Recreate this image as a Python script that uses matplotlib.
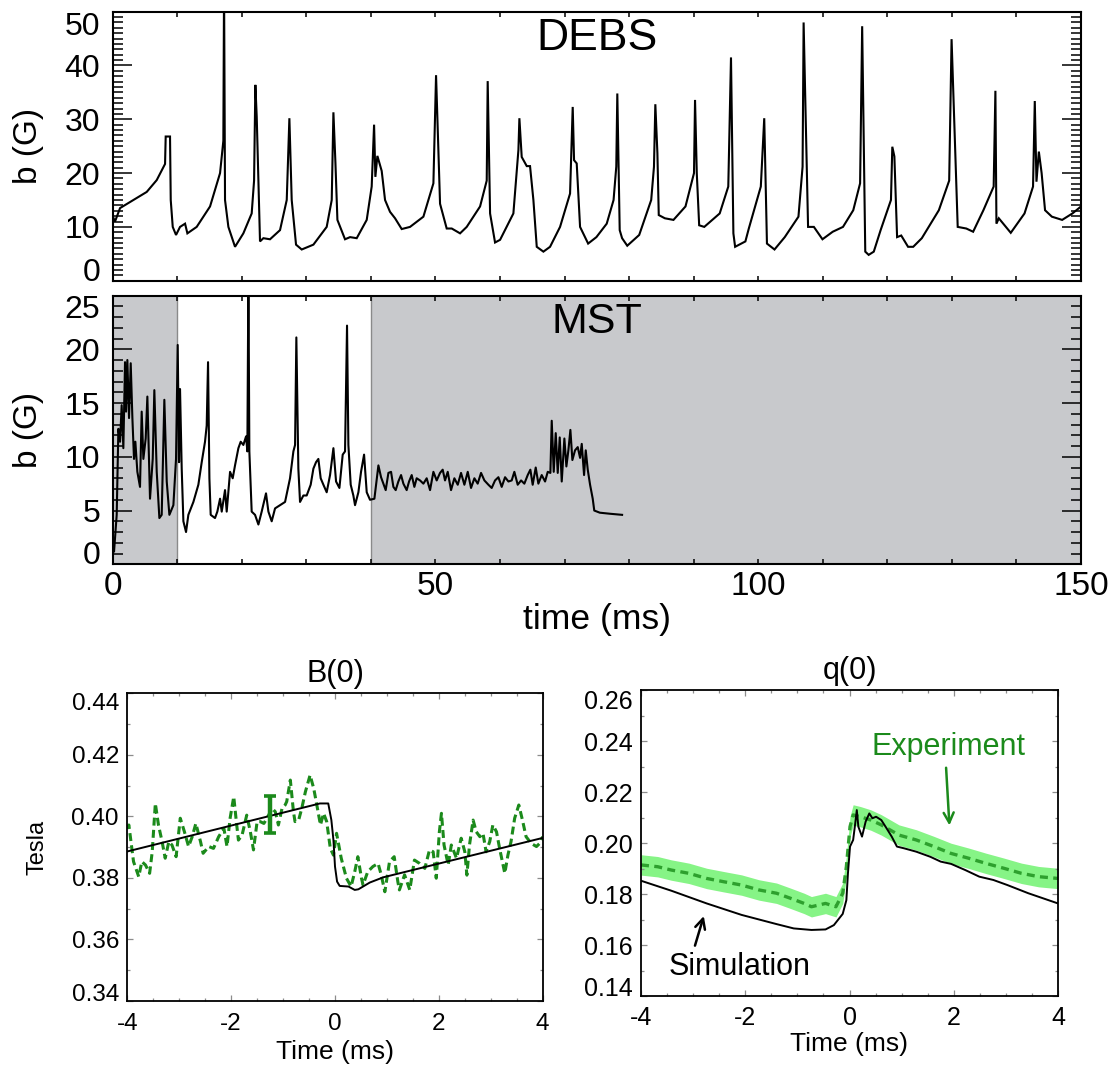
import matplotlib
matplotlib.use('Agg')
import matplotlib.pyplot as plt
from matplotlib.ticker import MultipleLocator, FormatStrFormatter

plt.rcParams['font.family'] = ['Liberation Sans', 'DejaVu Sans']
plt.rcParams['axes.unicode_minus'] = False

# ---------------- data ----------------
debs_points = [
    (0, 12), (0.36, 11), (1.14, 13.5), (3.20, 15), (5.27, 16.5), (6.82, 18.7), (7.85, 21.1),
    (8.11, 21.7), (8.21, 26.8), (8.88, 26.8), (8.99, 15), (9.30, 10.0), (9.81, 8.5), (10.43, 10.0),
    (11.21, 10.6), (11.57, 8.8), (13.01, 10), (15.08, 13.8), (16.63, 20), (17.14, 26), (17.25, 55),
    (17.40, 15), (17.92, 10), (18.95, 6.3), (20.24, 8.8), (21.53, 12.5), (21.90, 18.6), (22.10, 36.4),
    (22.31, 30.5), (22.82, 7.3), (23.34, 7.9), (24.37, 7.7), (25.92, 9.4), (26.96, 15), (27.37, 30.2),
    (27.73, 15), (28.40, 6.7), (29.28, 5.8), (31.09, 6.7), (33.15, 10), (33.93, 15), (34.19, 31.3),
    (34.50, 22), (34.81, 11.3), (35.99, 7.7), (36.77, 8.1), (37.80, 7.9), (39.35, 11.3), (40.12, 17.5),
    (40.49, 29.0), (40.69, 19.3), (41.00, 23.2), (41.67, 20.4), (42.19, 15), (42.96, 12.8),
    (43.74, 11.6), (44.77, 9.6), (46.06, 10), (48.13, 11.9), (49.68, 18.1), (50.09, 38.2),
    (50.71, 14.3), (51.74, 9.7), (52.52, 9.7), (53.81, 8.8), (54.84, 10), (56.91, 13.8), (57.94, 18.6),
    (58.09, 37.1), (58.46, 12.5), (59.23, 7.1), (60.01, 7.6), (62.07, 12.5), (62.85, 24.3),
    (63.00, 30.2), (63.36, 23), (64.14, 21.3), (64.65, 21.3), (65.17, 15), (65.69, 6.3), (66.72, 5.4),
    (67.75, 6.3), (69.30, 10), (70.85, 16.2), (71.26, 32.3), (71.47, 22.4), (71.88, 21.8), (72.40, 10),
    (73.65, 6.9), (74.93, 8.1), (76.53, 10.6), (77.59, 15), (78.01, 21.2), (78.17, 34.8), (78.54, 9.4),
    (78.91, 7.9), (79.71, 6.5), (81.56, 8.5), (83.42, 15), (83.85, 21.2), (84.06, 32.8), (84.38, 23.7),
    (84.59, 12.2), (85.54, 11.6), (86.87, 11.3), (88.73, 13.8), (90.05, 20), (90.21, 33.6),
    (90.48, 20), (90.85, 10.3), (91.64, 10), (94.03, 12.5), (95.36, 17.5), (95.78, 41.5), (96.15, 8.8),
    (96.42, 6.3), (98.01, 7.3), (98.54, 9.7), (100.40, 17.5), (100.93, 30.2), (101.35, 6.9),
    (102.52, 5.8), (104.11, 8.1), (106.23, 11.9), (106.87, 21.2), (107.03, 48.0), (107.72, 10),
    (108.62, 10), (109.95, 7.7), (111.54, 9.1), (113.13, 10), (114.72, 13.1), (115.78, 18.1),
    (116.10, 47.3), (116.58, 5.4), (117.11, 4.8), (117.90, 5.4), (118.96, 9.4), (120.56, 15),
    (120.77, 24.9), (121.09, 23.1), (121.51, 8.1), (122.15, 8.4), (123.21, 6.3), (124.01, 6.3),
    (125.34, 7.9), (127.98, 13.1), (129.58, 18.6), (129.95, 44.9), (130.90, 10), (132.23, 9.7),
    (133.29, 9.1), (134.88, 13.1), (136.47, 17.5), (136.74, 35.3), (136.90, 10.6), (137.27, 11.6),
    (139.12, 8.9), (141.25, 12.5), (142.57, 17.5), (142.84, 33.4), (143.10, 18.4), (143.47, 24.0),
    (143.90, 20.0), (144.43, 13.1), (145.49, 11.9), (147.08, 11.3), (148.67, 12.5), (150.0, 13.8),
]

mst_points = [
    (0.21, 1.2), (0.52, 3.7), (0.62, 4.6), (0.88, 12.6), (1.14, 11.4), (1.39, 14.8), (1.65, 10.8),
    (1.91, 18.8), (2.07, 14.2), (2.27, 19.0), (2.53, 13.6), (2.79, 18.7), (3.05, 13.6), (3.30, 9.8),
    (3.51, 11.4), (3.82, 8.6), (4.23, 7.2), (4.49, 14.2), (4.75, 9.8), (5.11, 11.7), (5.37, 15.6),
    (5.78, 6.1), (6.20, 9.8), (6.45, 16.2), (6.82, 8.6), (7.23, 4.3), (7.59, 4.6), (8.00, 15.3),
    (8.37, 7.7), (8.78, 4.6), (9.40, 5.5), (9.81, 9.8), (10.07, 20.4), (10.28, 9.5), (10.43, 16.3),
    (10.69, 8.9), (10.95, 4.0), (11.36, 3.0), (11.72, 4.6), (12.50, 5.8), (13.27, 7.4), (13.79, 9.5),
    (14.30, 11.4), (14.56, 12.9), (14.77, 18.8), (14.98, 8.0), (15.18, 4.6), (15.85, 4.3),
    (16.21, 4.9), (16.63, 6.1), (16.89, 4.9), (17.40, 6.9), (17.66, 4.9), (18.18, 8.6), (18.59, 8.0),
    (18.95, 9.2), (19.47, 10.8), (19.83, 11.4), (20.24, 11.1), (20.66, 11.9), (20.86, 10.5),
    (21.02, 27), (21.17, 10.5), (21.53, 4.9), (22.05, 4.6), (22.57, 3.7), (23.08, 4.9), (23.75, 6.6),
    (24.12, 4.9), (24.63, 4.0), (25.15, 5.2), (25.92, 5.5), (26.70, 5.8), (27.47, 8.0), (27.99, 10.5),
    (28.25, 11.1), (28.45, 21.1), (28.76, 8.9), (29.02, 5.8), (29.54, 6.4), (30.05, 6.4), (30.67, 7.4),
    (31.09, 8.9), (31.50, 9.5), (31.86, 9.8), (32.22, 8.0), (32.64, 7.4), (33.15, 6.7), (33.67, 8.3),
    (34.19, 10.8), (34.60, 7.7), (35.12, 7.1), (35.63, 10.2), (35.99, 10.5), (36.30, 22.2),
    (36.51, 11.1), (36.87, 7.4), (37.28, 6.4), (37.54, 5.5), (38.06, 6.7), (38.47, 8.6), (38.94, 10.2),
    (39.35, 6.7), (39.86, 6.0), (40.54, 6.1), (41.16, 9.2), (41.57, 8.1), (41.93, 7.5), (42.29, 6.9),
    (42.71, 8.5), (43.12, 8.6), (43.48, 7.2), (43.84, 6.9), (44.25, 7.7), (44.67, 8.3), (45.03, 7.5),
    (45.54, 6.9), (45.91, 7.7), (46.32, 8.3), (46.73, 7.2), (47.09, 8.0), (47.61, 7.8), (48.13, 7.5),
    (48.64, 8.0), (49.16, 6.9), (49.68, 8.6), (50.19, 7.8), (50.71, 8.5), (51.12, 8.8), (51.48, 7.8),
    (51.90, 8.6), (52.41, 6.9), (52.93, 8.0), (53.45, 7.4), (53.96, 8.5), (54.48, 7.4), (55.00, 8.6),
    (55.51, 7.1), (56.03, 8.0), (56.54, 7.5), (57.06, 8.5), (57.58, 7.8), (58.20, 7.4), (58.71, 7.1),
    (59.23, 7.8), (59.75, 8.1), (60.26, 7.2), (60.78, 8.1), (61.30, 7.7), (61.81, 7.8), (62.22, 8.6),
    (62.74, 7.4), (63.26, 7.8), (63.77, 7.5), (64.29, 8.3), (64.70, 8.8), (65.06, 7.4), (65.53, 9.0),
    (65.94, 7.5), (66.46, 8.3), (66.98, 7.7), (67.39, 8.6), (67.80, 8.5), (68.01, 13.35), (68.32, 8.6),
    (68.63, 12.2), (68.94, 8.5), (69.25, 11.8), (69.56, 7.7), (69.97, 11.7), (70.28, 9.1),
    (70.59, 10.6), (70.90, 12.5), (71.21, 9.7), (71.62, 10.6), (72.04, 10.9), (72.40, 9.9),
    (72.66, 11.2), (73.02, 8.3), (73.28, 10.6), (73.59, 8.8), (73.95, 7.4), (74.36, 6.1),
    (74.60, 5.0), (75.46, 4.8), (77.06, 4.7), (78.91, 4.6),
]

mst_shaded = [(0, 10), (40, 150)]

b0_sim_points = [
    (-4.00, 0.3886), (-0.29, 0.4042), (-0.13, 0.4042), (-0.07, 0.3988), (-0.03, 0.3923),
    (0.00, 0.3837), (0.04, 0.3788), (0.09, 0.3774), (0.26, 0.3772), (0.38, 0.3761), (0.45, 0.3763),
    (0.67, 0.3785), (0.93, 0.3802), (4.00, 0.3930),
]

b0_exp_points = [
    (-4.00, 0.3960), (-3.97, 0.3972), (-3.88, 0.3853), (-3.78, 0.3804), (-3.72, 0.3853),
    (-3.65, 0.3842), (-3.57, 0.3815), (-3.52, 0.3885), (-3.46, 0.4042), (-3.40, 0.3972),
    (-3.33, 0.3918), (-3.27, 0.3864), (-3.20, 0.3918), (-3.14, 0.3907), (-3.06, 0.3869),
    (-2.98, 0.3994), (-2.90, 0.3950), (-2.82, 0.3902), (-2.75, 0.3934), (-2.68, 0.3977),
    (-2.59, 0.3918), (-2.54, 0.3880), (-2.43, 0.3902), (-2.34, 0.3896), (-2.24, 0.3934),
    (-2.14, 0.3961), (-2.08, 0.3902), (-2.02, 0.3994), (-1.95, 0.4064), (-1.90, 0.3983),
    (-1.86, 0.3923), (-1.79, 0.3939), (-1.70, 0.4004), (-1.63, 0.3950), (-1.57, 0.3891),
    (-1.50, 0.3983), (-1.44, 0.3983), (-1.37, 0.3977), (-1.31, 0.3994), (-1.21, 0.4026),
    (-1.15, 0.4015), (-1.09, 0.3972), (-1.02, 0.4026), (-0.96, 0.4037), (-0.93, 0.4048),
    (-0.86, 0.4118), (-0.80, 0.4015), (-0.77, 0.3983), (-0.70, 0.3988), (-0.64, 0.4026),
    (-0.57, 0.4080), (-0.48, 0.4134), (-0.41, 0.4091), (-0.35, 0.4037), (-0.28, 0.3972),
    (-0.22, 0.4010), (-0.16, 0.3983), (-0.09, 0.3896), (-0.03, 0.3874), (0.03, 0.3945),
    (0.12, 0.3864), (0.22, 0.3799), (0.31, 0.3772), (0.38, 0.3820), (0.44, 0.3869), (0.51, 0.3799),
    (0.54, 0.3777), (0.63, 0.3820), (0.73, 0.3837), (0.83, 0.3847), (0.89, 0.3810), (0.96, 0.3755),
    (1.05, 0.3853), (1.14, 0.3869), (1.21, 0.3788), (1.24, 0.3761), (1.34, 0.3810), (1.44, 0.3761),
    (1.53, 0.3858), (1.63, 0.3847), (1.73, 0.3831), (1.82, 0.3891), (1.89, 0.3885), (1.95, 0.3799),
    (2.01, 0.3950), (2.05, 0.4010), (2.10, 0.3907), (2.18, 0.3842), (2.24, 0.3907), (2.34, 0.3864),
    (2.43, 0.3929), (2.50, 0.3885), (2.54, 0.3809), (2.59, 0.3907), (2.66, 0.3988), (2.72, 0.3950),
    (2.79, 0.3934), (2.85, 0.3945), (2.91, 0.3885), (2.98, 0.3918), (3.04, 0.3972), (3.11, 0.3950),
    (3.17, 0.3896), (3.27, 0.3815), (3.33, 0.3874), (3.39, 0.3918), (3.46, 0.3994), (3.54, 0.4037),
    (3.61, 0.3988), (3.68, 0.3934), (3.78, 0.3912), (3.88, 0.3902), (3.94, 0.3912), (4.00, 0.3934),
]

b0_errbar_t = -1.25
b0_errbar_v = 0.4005
b0_errbar_err = 0.006

q0_sim_points = [
    (-4.00, 0.1852), (-3.42, 0.1813), (-2.74, 0.1763), (-2.07, 0.1718), (-1.40, 0.1682),
    (-1.07, 0.1665), (-0.73, 0.1659), (-0.46, 0.1661), (-0.30, 0.1678), (-0.13, 0.1722),
    (-0.06, 0.1776), (-0.03, 0.1881), (0.01, 0.1986), (0.04, 0.1999), (0.07, 0.2012), (0.11, 0.2077),
    (0.14, 0.2129), (0.17, 0.2064), (0.24, 0.2025), (0.31, 0.2084), (0.38, 0.2116), (0.44, 0.2097),
    (0.51, 0.2103), (0.61, 0.2090), (0.71, 0.2058), (0.81, 0.2025), (0.91, 0.1986), (1.05, 0.1979),
    (1.28, 0.1966), (1.55, 0.1946), (1.75, 0.1927), (1.95, 0.1918), (2.22, 0.1894), (2.49, 0.1868),
    (2.76, 0.1855), (3.03, 0.1835), (3.43, 0.1803), (4.00, 0.1763),
]

q0_exp_points = [
    (-4.00, 0.1914), (-3.68, 0.1907), (-3.42, 0.1894), (-3.08, 0.1881), (-2.74, 0.1861),
    (-2.41, 0.1848), (-2.07, 0.1835), (-1.74, 0.1816), (-1.40, 0.1803), (-1.13, 0.1783),
    (-0.87, 0.1763), (-0.73, 0.1750), (-0.46, 0.1763), (-0.26, 0.1750), (-0.13, 0.1803),
    (-0.06, 0.1907), (0.01, 0.2064), (0.07, 0.2110), (0.21, 0.2103), (0.41, 0.2090), (0.61, 0.2071),
    (0.95, 0.2031), (1.28, 0.2012), (1.62, 0.1986), (1.95, 0.1959), (2.29, 0.1940), (2.62, 0.1920),
    (2.96, 0.1901), (3.30, 0.1881), (3.63, 0.1868), (4.00, 0.1861),
]
q0_exp_err = 0.004

debs_t, debs_b = zip(*debs_points)
mst_t, mst_b = zip(*mst_points)
b0s_t, b0s_v = zip(*b0_sim_points)
b0e_t, b0e_v = zip(*b0_exp_points)
q0s_t, q0s_v = zip(*q0_sim_points)
q0e_t, q0e_v = zip(*q0_exp_points)
q0e_lo = [v - q0_exp_err for v in q0e_v]
q0e_hi = [v + q0_exp_err for v in q0e_v]

# ---------------- figure ----------------
W, H = 1117, 1069
fig = plt.figure(figsize=(W / 100, H / 100), dpi=100)


def ax_px(l, t, r, b):
    return fig.add_axes([l / W, 1 - b / H, (r - l) / W, (b - t) / H])


def idl_end_labels(ax):
    ticks = ax.yaxis.get_major_ticks()
    ticks[0].label1.set_verticalalignment('baseline')
    ticks[-1].label1.set_verticalalignment('top')


GREEN_DARK = '#1b8a1b'
GREEN_MID = '#2ea02e'
GREEN_BAND = '#86f486'
SHADE = '#c8c9cc'

# ---- top panel: DEBS ----
ax1 = ax_px(112.7, 11.7, 1081, 280.7)
ax1.plot(debs_t, debs_b, color='k', lw=1.5, solid_joinstyle='miter')
ax1.set_xlim(0, 150)
ax1.set_ylim(0, 50)
ax1.set_yticks([0, 10, 20, 30, 40, 50])
ax1.yaxis.set_minor_locator(MultipleLocator(1))
ax1.xaxis.set_major_locator(MultipleLocator(50))
ax1.xaxis.set_minor_locator(MultipleLocator(10))
ax1.tick_params(which='both', direction='in', top=True, right=True, width=1.1, labelsize=23, pad=9)
ax1.tick_params(axis='y', which='major', length=13.5)
ax1.tick_params(axis='y', which='minor', length=7)
ax1.tick_params(axis='x', which='both', length=3.6, labelbottom=False)
ax1.set_ylabel('b (G)', fontsize=24)
ax1.yaxis.set_label_coords(-0.071, 0.5)
ax1.text(0.5, 0.902, 'DEBS', transform=ax1.transAxes, ha='center', va='center', fontsize=32)
for s in ax1.spines.values():
    s.set_linewidth(1.5)
idl_end_labels(ax1)

# ---- middle panel: MST ----
ax2 = ax_px(112.7, 295.5, 1081, 564.3)
for x0, x1 in mst_shaded:
    ax2.axvspan(x0, x1, color=SHADE, lw=0, zorder=0)
for xb in (10, 40):
    ax2.axvline(xb, color='#8a8a8a', lw=1.0, zorder=1)
ax2.plot(mst_t, mst_b, color='k', lw=1.5, zorder=3)
ax2.set_xlim(0, 150)
ax2.set_ylim(0, 25)
ax2.set_yticks([0, 5, 10, 15, 20, 25])
ax2.yaxis.set_minor_locator(MultipleLocator(1))
ax2.xaxis.set_major_locator(MultipleLocator(50))
ax2.xaxis.set_minor_locator(MultipleLocator(10))
ax2.tick_params(which='both', direction='in', top=True, right=True, width=1.1, labelsize=23, pad=9)
ax2.tick_params(axis='y', which='major', length=13.5)
ax2.tick_params(axis='y', which='minor', length=7)
ax2.tick_params(axis='x', which='both', length=3.6, labelsize=24, pad=5)
ax2.set_ylabel('b (G)', fontsize=24)
ax2.yaxis.set_label_coords(-0.071, 0.5)
ax2.set_xlabel('time (ms)', fontsize=25.5)
ax2.xaxis.set_label_coords(0.5, -0.145)
ax2.text(0.5, 0.901, 'MST', transform=ax2.transAxes, ha='center', va='center', fontsize=31)
for s in ax2.spines.values():
    s.set_linewidth(1.5)
idl_end_labels(ax2)


def style_small(ax, lsize, xpad, ypad):
    ax.set_xlim(-4, 4)
    ax.xaxis.set_major_locator(MultipleLocator(2))
    ax.xaxis.set_minor_locator(MultipleLocator(0.5))
    ax.yaxis.set_major_locator(MultipleLocator(0.02))
    ax.yaxis.set_minor_locator(MultipleLocator(0.01))
    ax.yaxis.set_major_formatter(FormatStrFormatter('%.2f'))
    ax.xaxis.set_major_formatter(FormatStrFormatter('%d'))
    ax.tick_params(which='both', direction='in', top=True, right=True, color='#8c8c8c',
                   labelcolor='k', width=0.9)
    ax.tick_params(which='major', length=4.5)
    ax.tick_params(which='minor', length=2.5)
    ax.tick_params(axis='x', labelsize=lsize, pad=xpad)
    ax.tick_params(axis='y', labelsize=lsize, pad=ypad)
    for s in ax.spines.values():
        s.set_linewidth(1.3)


# ---- bottom-left: B(0) ----
ax3 = ax_px(127.3, 693.3, 542.7, 1001)
ax3.plot(b0s_t, b0s_v, color='k', lw=1.4, zorder=3)
ax3.plot(b0e_t, b0e_v, color=GREEN_DARK, lw=2.2, dashes=(2.6, 1.4), zorder=2)
ax3.errorbar([b0_errbar_t], [b0_errbar_v], yerr=[b0_errbar_err], color=GREEN_DARK, lw=3.2,
             capsize=4.5, capthick=2.6, fmt='none', zorder=4)
ax3.set_ylim(0.34, 0.44)
style_small(ax3, 17.5, 9, 6)
ax3.set_yticks([0.34, 0.36, 0.38, 0.40, 0.42, 0.44])
ax3.set_title('B(0)', fontsize=22, pad=8)
ax3.set_xlabel('Time (ms)', fontsize=19)
ax3.xaxis.set_label_coords(0.5, -0.128)
ax3.set_ylabel('Tesla', fontsize=17)
ax3.yaxis.set_label_coords(-0.19, 0.5)
idl_end_labels(ax3)

# ---- bottom-right: q(0) ----
ax4 = ax_px(641, 690, 1058, 996)
ax4.fill_between(q0e_t, q0e_lo, q0e_hi, color=GREEN_BAND, lw=0, zorder=1)
ax4.plot(q0e_t, q0e_v, color=GREEN_MID, lw=2.4, dashes=(2.4, 1.6), zorder=2)
ax4.plot(q0s_t, q0s_v, color='k', lw=1.4, zorder=3)
ax4.set_ylim(0.14, 0.26)
style_small(ax4, 18, 7, 6)
ax4.set_yticks([0.14, 0.16, 0.18, 0.20, 0.22, 0.24, 0.26])
ax4.set_title('q(0)', fontsize=22, pad=8)
ax4.set_xlabel('Time (ms)', fontsize=19)
ax4.xaxis.set_label_coords(0.5, -0.118)
ax4.annotate('', xy=(1.92, 0.2058), xytext=(1.85, 0.2306),
             arrowprops=dict(arrowstyle='->', color=GREEN_DARK, lw=1.8, mutation_scale=18))
ax4.text(1.90, 0.2378, 'Experiment', color=GREEN_DARK, fontsize=22, ha='center', va='center')
ax4.annotate('', xy=(-2.78, 0.1724), xytext=(-2.98, 0.1587),
             arrowprops=dict(arrowstyle='->', color='k', lw=1.8, mutation_scale=18))
ax4.text(-2.11, 0.1515, 'Simulation', color='k', fontsize=22, ha='center', va='center')
idl_end_labels(ax4)

fig.savefig('out.png', dpi=100)
